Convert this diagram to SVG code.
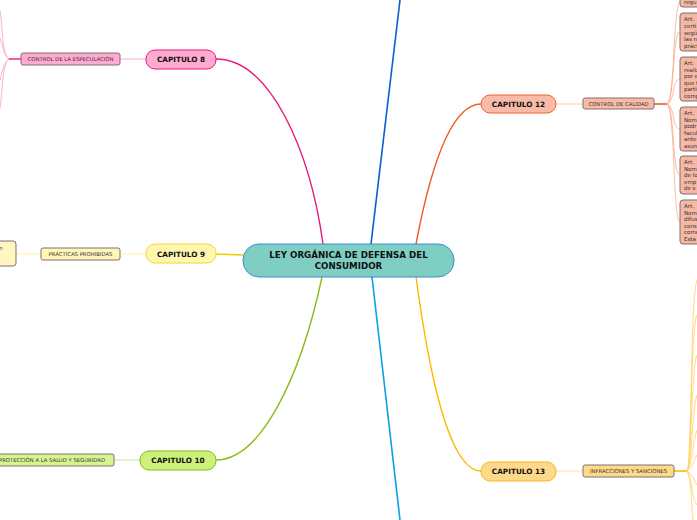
<svg xmlns="http://www.w3.org/2000/svg" width="697" height="520" viewBox="0 0 697 520">
<style>
.cap{font-family:"DejaVu Sans",Verdana,sans-serif;font-weight:bold;font-size:7.3px;fill:#111;text-anchor:middle}
.sub{font-family:"DejaVu Sans",Verdana,sans-serif;font-size:5.3px;fill:#333;text-anchor:middle}
.art{font-family:"DejaVu Sans",Verdana,sans-serif;font-size:5.5px;fill:#333}
.sb{stroke:#807070;stroke-width:1}
.c{fill:none}
</style>
<rect width="697" height="520" fill="#fff"/>
<g id="connectors" class="c">
<path d="M371 244 L400 0" stroke="#0a5fd0" stroke-width="1.6"/>
<path d="M372 277 L400 520" stroke="#0aa0e8" stroke-width="1.6"/>
<path d="M323 244 C310 150 270 59 216 59" stroke="#e8177a" stroke-width="1.4"/>
<path d="M243 255 L216 254" stroke="#f0cc00" stroke-width="1.4"/>
<path d="M322 277 C300 380 260 460 216 460" stroke="#8cbc1a" stroke-width="1.4"/>
<path d="M416 244 C430 170 450 104 481 104" stroke="#f05a28" stroke-width="1.4"/>
<path d="M416 277 C430 380 450 471 481 471" stroke="#ffb800" stroke-width="1.4"/>
<path d="M120 59 L146 59" stroke="#ffaacc" stroke-width="1"/>
<path d="M21 59 L9 59" stroke="#e8177a" stroke-width="1.4"/>
<path d="M9 59 C2 55 3 30 0 10 M9 59 C3 55 3 45 0 38 M9 59 C3 63 3 70 0 80 M9 59 C2 63 3 90 0 108" stroke="#ff9ac8" stroke-width="0.8"/>
<path d="M120 254 L146 254 M16 254 L41 254" stroke="#fff0a0" stroke-width="1"/>
<path d="M114 460 L140 460" stroke="#c8e890" stroke-width="1"/>
<path d="M556 104 L583 104" stroke="#fcc8b4" stroke-width="1"/>
<path d="M654 104 L667 104" stroke="#f05a28" stroke-width="1.6"/>
<g stroke="#fca888" stroke-width="0.8">
<path d="M667 104 C675 100 673 5 680 2"/>
<path d="M667 104 C675 100 672 32 680 32"/>
<path d="M667 104 C675 102 672 79 680 79"/>
<path d="M667 104 C675 106 672 129 680 129"/>
<path d="M667 104 C675 108 672 175 680 175"/>
<path d="M667 104 C675 108 673 222 680 222"/>
</g>
<path d="M556 471 L583 471" stroke="#fee0a0" stroke-width="1"/>
<path d="M674 471 L687 471" stroke="#ffb800" stroke-width="1.6"/>
<g stroke="#ffd060" stroke-width="0.8">
<path d="M687 471 C692 465 690 300 697 280"/>
<path d="M687 471 C692 465 690 330 697 315"/>
<path d="M687 471 C692 465 691 370 697 355"/>
<path d="M687 471 C692 465 692 410 697 395"/>
<path d="M687 471 C692 465 693 440 697 430"/>
<path d="M687 471 C692 468 694 460 697 455"/>
<path d="M687 471 C692 474 694 480 697 485"/>
<path d="M687 471 C692 478 692 500 697 505"/>
<path d="M687 471 C692 478 691 510 693 520"/>
</g>
</g>
<g id="central">
<rect x="243" y="244" width="211" height="33" rx="16" fill="#7fcec4" stroke="#3a8fd0" stroke-width="1"/>
<text class="cap" x="348.5" y="258" style="font-size:8.7px">LEY ORGÁNICA DE DEFENSA DEL</text>
<text class="cap" x="348.5" y="269" style="font-size:8.7px">CONSUMIDOR</text>
</g>
<g id="cap8">
<rect x="146" y="50" width="70" height="19" rx="9" fill="#ffaad0" stroke="#e8177a"/>
<text class="cap" x="181" y="62">CAPITULO 8</text>
</g>
<g id="especulacion">
<rect x="21" y="53" width="99" height="12" rx="2" fill="#ffaad0" class="sb"/>
<text class="sub" x="70.5" y="61">CONTROL DE LA ESPECULACIÓN</text>
</g>
<g id="cap9">
<rect x="146" y="244" width="70" height="19" rx="9" fill="#fff6b0" stroke="#f2d830"/>
<text class="cap" x="181" y="256.5">CAPITULO 9</text>
</g>
<g id="practicas">
<rect x="41" y="248" width="79" height="12" rx="2" fill="#fff6b8" class="sb"/>
<text class="sub" x="80.5" y="256">PRÁCTICAS PROHIBIDAS</text>
</g>
<g id="practicas-item">
<rect x="-20" y="241" width="36" height="25" rx="3" fill="#fff6c0" class="sb"/>
<text class="art" x="-4" y="250">ón</text>
</g>
<g id="cap10">
<rect x="140" y="451" width="76" height="19" rx="9" fill="#ccf07a" stroke="#8ab820"/>
<text class="cap" x="178" y="463">CAPITULO 10</text>
</g>
<g id="proteccion">
<rect x="-20" y="454" width="134" height="12" rx="2" fill="#d6f590" class="sb"/>
<text class="sub" x="52" y="462">PROTECCIÓN A LA SALUD Y SEGURIDAD</text>
</g>
<g id="cap12">
<rect x="481" y="95" width="75" height="18" rx="9" fill="#f9bba8" stroke="#f06030"/>
<text class="cap" x="518.5" y="107">CAPITULO 12</text>
</g>
<g id="calidad">
<rect x="583" y="98" width="71" height="11" rx="2" fill="#f9bba8" class="sb"/>
<text class="sub" x="618.5" y="105.7">CONTROL DE CALIDAD</text>
</g>
<g id="art-a">
<rect x="680" y="-20" width="30" height="27" rx="3" fill="#f5b8a5" class="sb"/>
<text class="art" x="684" y="4">regu</text>
</g>
<g id="art-b">
<rect x="680" y="13" width="30" height="38" rx="3" fill="#f5b8a5" class="sb"/>
<text class="art" x="684" y="21">Art.</text>
<text class="art" x="684" y="28">certi</text>
<text class="art" x="684" y="34.5">segú</text>
<text class="art" x="684" y="41">las n</text>
<text class="art" x="684" y="47.5">práct</text>
</g>
<g id="art-c">
<rect x="680" y="57" width="30" height="44" rx="3" fill="#f5b8a5" class="sb"/>
<text class="art" x="684" y="65">Art.</text>
<text class="art" x="684" y="71.5">realiz</text>
<text class="art" x="684" y="78">por e</text>
<text class="art" x="684" y="84.5">que t</text>
<text class="art" x="684" y="91">partic</text>
<text class="art" x="684" y="97.5">comp</text>
</g>
<g id="art-d">
<rect x="680" y="107" width="30" height="44" rx="3" fill="#f5b8a5" class="sb"/>
<text class="art" x="684" y="115">Art.</text>
<text class="art" x="684" y="121.5">Nom</text>
<text class="art" x="684" y="128">podr</text>
<text class="art" x="684" y="134.5">facul</text>
<text class="art" x="684" y="141">ante</text>
<text class="art" x="684" y="147.5">asun</text>
</g>
<g id="art-e">
<rect x="680" y="156" width="30" height="38" rx="3" fill="#f5b8a5" class="sb"/>
<text class="art" x="684" y="164">Art.</text>
<text class="art" x="684" y="170.5">Nom</text>
<text class="art" x="684" y="177">de lo</text>
<text class="art" x="684" y="183.5">emp</text>
<text class="art" x="684" y="190">de s</text>
</g>
<g id="art-f">
<rect x="680" y="200" width="30" height="44" rx="3" fill="#f5b8a5" class="sb"/>
<text class="art" x="684" y="208">Art.</text>
<text class="art" x="684" y="214.5">Nom</text>
<text class="art" x="684" y="221">difus</text>
<text class="art" x="684" y="227.5">cons</text>
<text class="art" x="684" y="234">come</text>
<text class="art" x="684" y="240.5">Esta</text>
</g>
<g id="cap13">
<rect x="481" y="462" width="75" height="19" rx="9" fill="#fed98a" stroke="#f5b820"/>
<text class="cap" x="518.5" y="474">CAPITULO 13</text>
</g>
<g id="infracciones">
<rect x="583" y="465" width="91" height="12" rx="2" fill="#fed98a" class="sb"/>
<text class="sub" x="628.5" y="473">INFRACCIONES Y SANCIONES</text>
</g>
</svg>
